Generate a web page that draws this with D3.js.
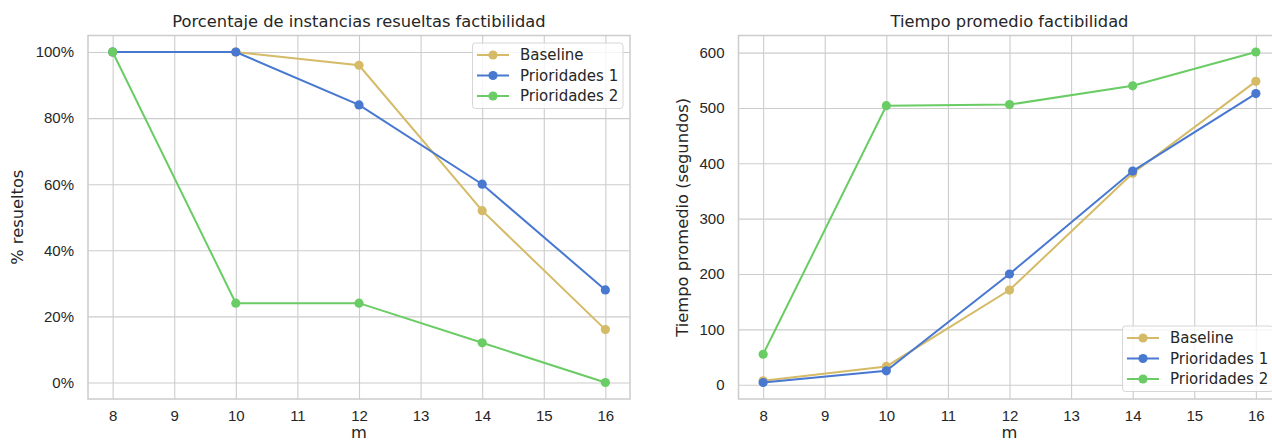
<!DOCTYPE html>
<html>
<head>
<meta charset="utf-8">
<script src="https://cdn.jsdelivr.net/npm/d3@7"></script>
<style>
  html, body { margin: 0; padding: 0; background: #ffffff; }
  svg { display: block; font-family: "DejaVu Sans", sans-serif; }
</style>
</head>
<body>
<svg id="chart" width="1272" height="441"></svg>
<script>
// Problem sizes m (shared x values)
const mValues = [8, 10, 12, 14, 16];
const xTicks = [8, 9, 10, 11, 12, 13, 14, 15, 16];
const seriesNames = ["Baseline", "Prioridades 1", "Prioridades 2"];

// Percentage of instances solved (feasibility)
const pctBaseline = [100, 100, 96, 52, 16];
const pctPrioridades1 = [100, 100, 84, 60, 28];
const pctPrioridades2 = [100, 24, 24, 12, 0];
const pctTicks = [0, 20, 40, 60, 80, 100];

// Average time in seconds (feasibility)
const timeBaseline = [7, 33, 171, 382, 548];
const timePrioridades1 = [4, 25, 200, 386, 526];
const timePrioridades2 = [55, 504, 506, 540, 601];
const timeTicks = [0, 100, 200, 300, 400, 500, 600];

const colors = ["#d5bb67", "#4878d0", "#6acc64"];
const textColor = "#262626";
const gridColor = "#cccccc";
const tickFont = "15px";
const labelFont = "16.3px";

const svg = d3.select("#chart");

function paddedDomain(values) {
  const lo = d3.min(values), hi = d3.max(values);
  const pad = (hi - lo) * 0.05;
  return [lo - pad, hi + pad];
}

function drawPanel(opts) {
  const { left, right, top, bottom, series, yTicks, yFormat, title, yLabel, yLabelX, legendPos } = opts;

  const x = d3.scaleLinear().domain(paddedDomain(mValues)).range([left, right]);
  const allY = series.flat();
  const y = d3.scaleLinear().domain(paddedDomain(allY)).range([bottom, top]);

  const g = svg.append("g");

  // grid via axes with full-length ticks
  const xAxis = d3.axisBottom(x).tickValues(xTicks).tickSize(-(bottom - top)).tickPadding(14).tickFormat(d3.format("d"));
  const yAxis = d3.axisLeft(y).tickValues(yTicks).tickSize(-(right - left)).tickPadding(14).tickFormat(yFormat);

  const gx = g.append("g").attr("transform", `translate(0,${bottom})`).call(xAxis);
  const gy = g.append("g").attr("transform", `translate(${left},0)`).call(yAxis);
  [gx, gy].forEach(a => {
    a.select(".domain").remove();
    a.selectAll(".tick line").attr("stroke", gridColor).attr("stroke-width", 1.1);
    a.selectAll(".tick text").attr("fill", textColor).style("font-size", tickFont);
  });
  gx.selectAll(".tick text").attr("dy", "0.71em").attr("y", 11.5);

  // frame
  g.append("rect")
    .attr("x", left).attr("y", top)
    .attr("width", right - left).attr("height", bottom - top)
    .attr("fill", "none").attr("stroke", gridColor).attr("stroke-width", 1.5);

  // lines and markers
  const line = d3.line().x((d, i) => x(mValues[i])).y(d => y(d));
  series.forEach((vals, si) => {
    g.append("path").datum(vals)
      .attr("d", line).attr("fill", "none")
      .attr("stroke", colors[si]).attr("stroke-width", 2);
    g.selectAll(null).data(vals).enter().append("circle")
      .attr("cx", (d, i) => x(mValues[i])).attr("cy", d => y(d))
      .attr("r", 4.6).attr("fill", colors[si]);
  });

  // title and axis labels
  g.append("text").attr("x", (left + right) / 2).attr("y", 27)
    .attr("text-anchor", "middle").attr("fill", textColor)
    .style("font-size", labelFont).text(title);
  g.append("text").attr("x", (left + right) / 2).attr("y", 438)
    .attr("text-anchor", "middle").attr("fill", textColor)
    .style("font-size", labelFont).text("m");
  g.append("text")
    .attr("transform", `translate(${yLabelX},${(top + bottom) / 2}) rotate(-90)`)
    .attr("text-anchor", "middle").attr("fill", textColor)
    .style("font-size", labelFont).text(yLabel);

  // legend
  const lg = g.append("g").attr("transform", `translate(${legendPos[0]},${legendPos[1]})`);
  lg.append("rect").attr("x", 0).attr("y", 0)
    .attr("width", legendPos[2]).attr("height", 65.5).attr("rx", 3)
    .attr("fill", "#ffffff").attr("fill-opacity", 0.8)
    .attr("stroke", "#d6d6d6").attr("stroke-width", 1);
  seriesNames.forEach((name, i) => {
    const cy = 12 + i * 20.5;
    lg.append("line").attr("x1", 4.5).attr("x2", 36.5).attr("y1", cy).attr("y2", cy)
      .attr("stroke", colors[i]).attr("stroke-width", 2);
    lg.append("circle").attr("cx", 20.5).attr("cy", cy).attr("r", 4.6).attr("fill", colors[i]);
    lg.append("text").attr("x", 47.5).attr("y", cy).attr("dy", "0.35em")
      .attr("fill", textColor).style("font-size", tickFont).text(name);
  });
}

drawPanel({
  left: 88, right: 630, top: 35.5, bottom: 399,
  series: [pctBaseline, pctPrioridades1, pctPrioridades2],
  yTicks: pctTicks, yFormat: d => d + "%",
  title: "Porcentaje de instancias resueltas factibilidad",
  yLabel: "% resueltos", yLabelX: 23,
  legendPos: [472.5, 43, 150.5]
});

drawPanel({
  left: 738.5, right: 1280.5, top: 35.5, bottom: 399,
  series: [timeBaseline, timePrioridades1, timePrioridades2],
  yTicks: timeTicks, yFormat: d3.format("d"),
  title: "Tiempo promedio factibilidad",
  yLabel: "Tiempo promedio (segundos)", yLabelX: 688,
  legendPos: [1122.5, 326, 150.5]
});
</script>
</body>
</html>
